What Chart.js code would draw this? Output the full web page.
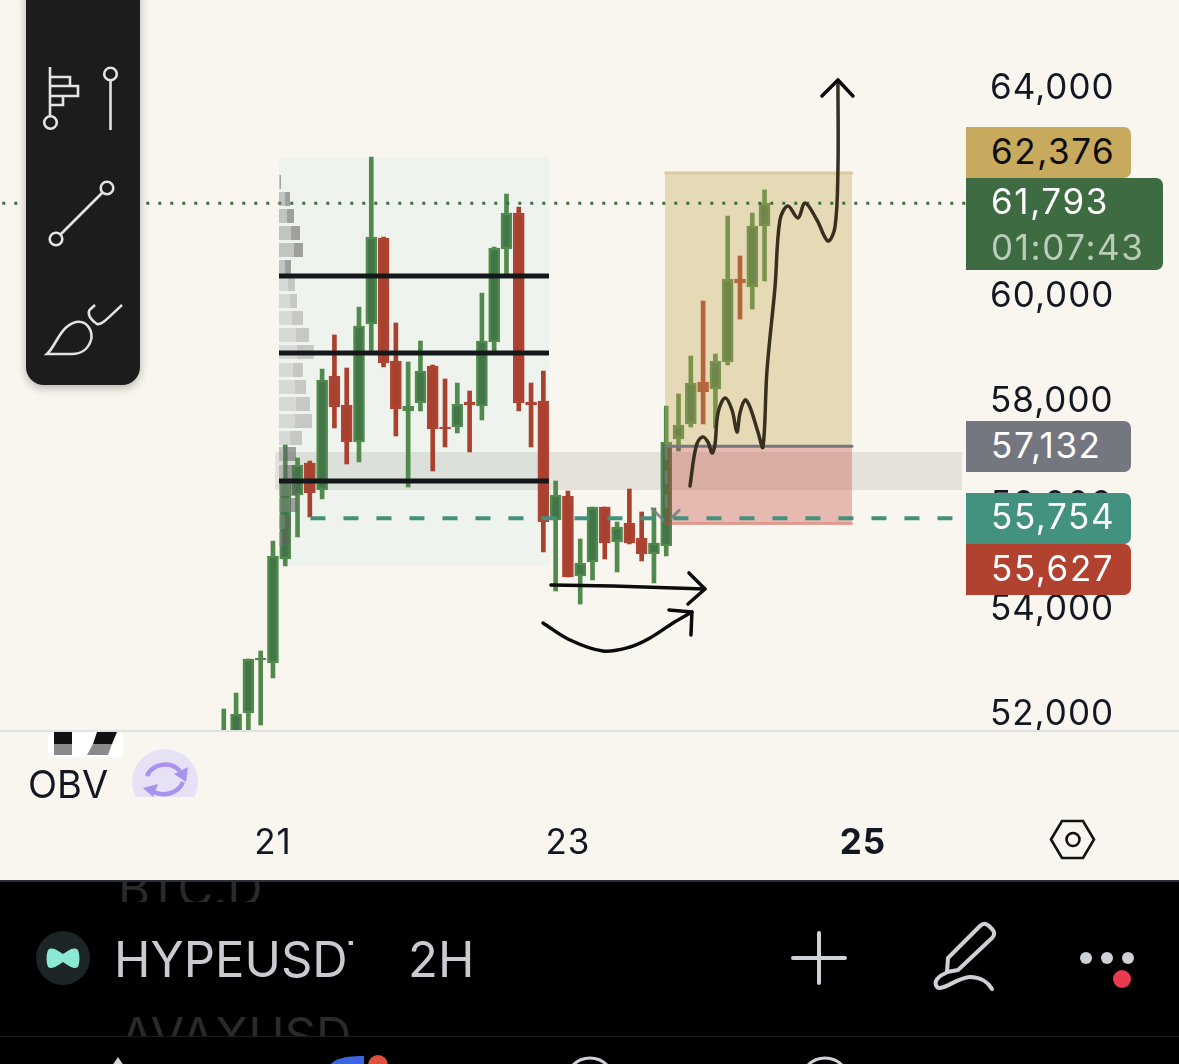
<!DOCTYPE html>
<html>
<head>
<meta charset="utf-8">
<title>HYPEUSDT 2H</title>
<script src="https://cdn.jsdelivr.net/npm/chart.js@4"></script>
<style>
    html, body { margin: 0; padding: 0; background: #f9f6ef; overflow: hidden; }
    body { width: 1179px; height: 1064px; position: relative; font-family: Inter, sans-serif; }
    canvas { position: absolute; left: 0; top: 0; }
    .abs { position: absolute; }
    .tag { position: absolute; left: 966px; width: 165px; box-sizing: border-box; padding-left: 25px;
           border-radius: 0 7px 7px 0; font-size: 35px; letter-spacing: 1.6px; color: #fff; }
    .fade { position: absolute; color: #2a2a2d; font-size: 49px; white-space: nowrap; overflow: hidden; }
    svg { position: absolute; overflow: visible; }
</style>
</head>
<body>
<canvas id="priceChart" width="1179" height="880"></canvas>

<div class="abs" style="left:0;top:730px;width:1179px;height:2px;background:#dfe2e3"></div>

<!-- drawing tools panel -->
<div class="abs" style="left:26px;top:-20px;width:114px;height:405px;background:#1c1c1c;border-radius:18px;box-shadow:0 3px 10px rgba(0,0,0,.28)"></div>
<svg width="1179" height="400" style="left:0;top:0" fill="none" stroke="#e3e3e3" stroke-width="2.6">
    <path d="M50 67V116M50 77H70V86H78V96H63V105H50M50 86H70M50 96H63"/>
    <circle cx="50.5" cy="122.5" r="6.3"/>
    <circle cx="110.5" cy="74" r="6.3"/>
    <path d="M110.5 80V130"/>
    <circle cx="107" cy="188" r="6.3"/>
    <circle cx="56" cy="239" r="6.3"/>
    <path d="M60.5 234.5L102.5 192.5"/>
    <path d="M47 354C56 346 60 326 76 322C88 320 93 332 91 340C88 350 80 354 72 354Z"/>
    <path d="M95 305L89.500 310C87 315 92 321 97 324C101 325 103 323 122 305"/>
</svg>

<!-- OBV pane label -->
<div class="abs" style="left:48px;top:732px;width:75px;height:25px;background:#fff"></div>
<div class="abs" style="left:54px;top:732px;width:18px;height:12px;background:#111"></div>
<div class="abs" style="left:54px;top:744px;width:18px;height:11px;background:#8a8a8a"></div>
<svg width="1179" height="800" style="left:0;top:0">
    <path d="M97 732H117L112 744H93Z" fill="#111"/>
    <path d="M93 744H112L108 755H87Z" fill="#8a8a8a"/>
</svg>
<div class="abs" style="left:28px;top:762px;font-size:38px;color:#131722;line-height:44px">OBV</div>
<div class="abs" style="left:120px;top:740px;width:90px;height:57px;overflow:hidden">
    <svg width="90" height="90" style="left:0;top:0" fill="none">
        <circle cx="45" cy="42" r="33" fill="#e7e1f5"/>
        <path d="M27 36C32 24 50 20 60 31" stroke="#a993ee" stroke-width="4.500"/>
        <path d="M63 42C58 54 42 58 31 50" stroke="#a993ee" stroke-width="4.500"/>
        <path d="M54 34L68 27L66 42Z" fill="#a993ee"/>
        <path d="M23 48L38 44L33 57Z" fill="#a993ee"/>
    </svg>
</div>

<!-- price tags on the right axis -->
<div class="tag" style="top:127px;height:51px;line-height:48px;background:#c8aa5f;color:#0c0c0c">62,376</div>
<div class="tag" style="top:178px;width:197px;height:92px;background:#3e6b42;line-height:46px">61,793<br><span style="color:#b9cdb9">01:07:43</span></div>
<div class="tag" style="top:421px;height:51px;line-height:48px;background:#747680">57,132</div>
<div class="tag" style="top:493px;height:51px;line-height:46px;background:#439280">55,754</div>
<div class="tag" style="top:544px;height:51px;line-height:48px;background:#b24230">55,627</div>

<svg width="1179" height="880" style="left:0;top:0" fill="none" stroke="#111" stroke-width="2.600">
    <path d="M1051 839.500L1062 821H1083L1094 839.500L1083 858H1062Z"/>
    <circle cx="1073" cy="839.500" r="6.500"/>
</svg>

<!-- bottom bar -->
<div class="abs" style="left:0;top:880px;width:1179px;height:184px;background:#000;border-top:2px solid #2a2e39;box-sizing:border-box"></div>
<div class="fade" style="left:118px;top:882px;height:20px"><div style="margin-top:-22px;line-height:58px">BTC.D</div></div>
<div class="fade" style="left:120px;top:1012px;width:232px;height:24px;line-height:48px">AVAXUSDT</div>
<div class="abs" style="left:0;top:1036px;width:1179px;height:1px;background:#1c1c1e"></div>
<div class="abs" style="left:114px;top:930px;width:239px;height:60px;overflow:hidden;font-size:49px;line-height:60px;color:#c8cbd0;white-space:nowrap">HYPEUSDT</div>
<div class="abs" style="left:408px;top:930px;font-size:49px;line-height:60px;color:#c8cbd0">2H</div>
<svg width="1179" height="1064" style="left:0;top:0" fill="none" stroke="#ced1d6" stroke-width="4" stroke-linecap="round" stroke-linejoin="round">
    <circle cx="63" cy="958" r="27" fill="#1c2426" stroke="none"/>
    <path d="M48 950C53 946 58 951 63 954C68 951 73 946 78 950C80 955 80 962 78 967C73 970 68 965 63 962C58 965 53 970 48 967C46 962 46 955 48 950Z" fill="#8be8d5" stroke="none"/>
    <path d="M819 933V983M793 958H845"/>
    <path d="M948 958L980 926C983 923 986 923 989 926L992 929C995 932 995 935 992 938L958 970L947 972Z"/>
    <path d="M946 973C938 976 933 982 937 987C942 992 958 977 970 977C980 977 988 982 992 989"/>
    <circle cx="1086" cy="958" r="6" fill="#ced1d6" stroke="none"/>
    <circle cx="1107" cy="958" r="6" fill="#ced1d6" stroke="none"/>
    <circle cx="1128" cy="958" r="6" fill="#ced1d6" stroke="none"/>
    <circle cx="1122" cy="979" r="9" fill="#ea3a50" stroke="none"/>
    <path d="M118 1057L128 1072H108Z" fill="#d5d5d5" stroke="none"/>
    <path d="M326 1072C330 1060 340 1056 364 1056V1072Z" fill="#3b66e0" stroke="none"/>
    <circle cx="378" cy="1065" r="10" fill="#e0503e" stroke="none"/>
    <circle cx="590" cy="1082" r="24" stroke-width="3"/>
    <circle cx="825" cy="1082" r="24" stroke-width="3"/>
</svg>

<script>
let candleIndex = [-4, -3, -2, -1, 0, 1, 2, 3, 4, 5, 6, 7, 8, 9, 10, 11, 12, 13, 14, 15, 16, 17, 18, 19, 20, 21, 22, 23, 24, 25, 26, 27, 28, 29, 30, 31, 32, 33, 34, 35, 36, 37, 38, 39, 40];
let candleOpen = [51407, 51598, 52020, 53036, 52978, 54972, 56199, 56812, 56294, 58480, 57924, 57215, 59476, 61125, 58767, 57809, 57962, 58671, 57502, 57502, 57981, 57905, 59131, 60914, 61604, 57981, 58000, 55719, 56179, 54646, 54914, 55969, 55298, 55662, 55374, 55068, 55221, 57272, 57560, 58365, 58230, 58748, 60339, 60186, 61355];
let candleHigh = [52097, 52403, 53055, 53208, 55317, 57157, 56908, 56850, 58614, 59266, 58633, 59802, 62677, 61144, 59496, 58748, 59150, 58690, 58422, 58345, 58192, 60071, 60952, 61968, 61719, 58345, 58575, 56467, 56275, 55355, 55969, 55969, 55681, 56314, 55873, 55949, 57905, 58135, 58863, 59917, 58901, 61546, 60780, 61604, 62045];
let candleLow = [51272, 51502, 51598, 51790, 52691, 54838, 55394, 55777, 56122, 57483, 56793, 56831, 58940, 58652, 57330, 56352, 57809, 56659, 57119, 57387, 57023, 57636, 58940, 60435, 57809, 57119, 55106, 54358, 54627, 54109, 54569, 54972, 54723, 55260, 54934, 54512, 55029, 57042, 57502, 57560, 57483, 58690, 59572, 59764, 60301];
let candleClose = [51598, 52001, 53055, 53074, 55029, 56486, 56774, 56237, 58403, 57885, 57215, 59438, 61144, 58729, 57847, 57905, 58575, 57464, 57464, 57943, 57924, 59150, 60933, 61604, 57962, 57924, 55681, 56199, 54627, 54895, 55969, 55279, 55585, 55279, 55068, 55279, 57215, 57540, 58345, 58173, 58767, 60339, 60262, 61355, 61793];

let priceTicks = [52000, 54000, 56000, 58000, 60000, 62000, 64000];
let timeTicks = [0, 24, 48];
let timeTickLabels = ['21', '23', '25'];

let lastPrice = 61793;
let targetPrice = 62376;
let entryPrice = 57132;
let stopPrice = 55627;
let pocPrice = 55754;

// fixed range volume profile, one row per price bin
let profileTop = [62332, 62007, 61681, 61355, 61029, 60703, 60377, 60051, 59726, 59400, 59074, 58729, 58403, 58077, 57751, 57425, 57119, 56774, 56448, 56141, 55815, 55489];
let profileUp = [0.08, 0.49, 0.65, 0.98, 1.22, 0.49, 0.73, 0.9, 1.06, 1.38, 1.46, 1.14, 1.3, 1.38, 1.3, 0.9, 0.41, 0.41, 0.9, 0.9, 0.49, 0.24];
let profileDown = [0.08, 0.41, 0.57, 0.73, 0.73, 0.49, 0.57, 0.57, 0.9, 1.06, 1.38, 0.81, 0.9, 1.14, 1.38, 0.98, 0.98, 0.81, 0.57, 0.57, 0.49, 0.65];
let profileRowSize = 268;
let valueAreaRows = [6, 15];

let rangeLevels = [60396, 58920, 56467];

// hand drawn strokes, as [bar, price]
let scribbleUp = [[33.93, 56371], [34.42, 57119], [34.91, 57310], [35.39, 57215], [35.72, 57004], [35.96, 57157], [36.21, 57770], [36.78, 58058], [37.35, 57828], [37.75, 57406], [38.0, 57770], [38.41, 58020], [38.81, 57885], [39.46, 57406], [39.87, 57119], [40.2, 58595], [40.85, 60186], [41.25, 61470], [41.9, 61738], [42.72, 61508], [43.29, 61796], [44.26, 61470], [45.16, 61067], [45.73, 61336], [45.97, 62428], [45.97, 64153]];
let scribbleUpHead = [[44.67, 63847], [45.97, 64153], [47.19, 63847]];
let flatArrow = [[22.62, 54473], [27.66, 54454], [35.15, 54397]];
let flatArrowHead = [[33.85, 54704], [35.15, 54397], [33.77, 54109]];
let bowlArrow = [[21.97, 53745], [24.17, 53419], [26.85, 53208], [29.05, 53285], [30.68, 53458], [32.55, 53745], [34.09, 53956]];
let bowlArrowHead = [[32.22, 53994], [34.09, 53956], [34.01, 53515]];
let checkLeft = [[30.85, 55935], [31.75, 55720]];
let checkRight = [[33.05, 55905], [32.4, 55750]];

let greenBorder = '#508a4c';
let greenBody = '#427548';
let redBody = '#a9412f';

function toPoints(pairs) {
    return pairs.map(function (p) {
        return { x: p[0], y: p[1] };
    });
}

// a filled block between two bars and two prices
function block(fromBar, toBar, top, bottom, color, order) {
    return {
        type: 'line',
        data: [{ x: fromBar, y: top }, { x: toBar, y: top }],
        fill: { value: bottom },
        backgroundColor: color,
        borderColor: 'transparent',
        borderWidth: 0,
        pointRadius: 0,
        order: order,
    };
}

function stroke(points, color, width, order, tension, dash) {
    return {
        type: 'line',
        data: points,
        borderColor: color,
        borderWidth: width,
        borderDash: dash || [],
        borderCapStyle: dash ? 'butt' : 'round',
        borderJoinStyle: 'round',
        tension: tension || 0,
        pointRadius: 0,
        fill: false,
        order: order,
    };
}

let isUp = candleClose.map(function (c, i) {
    return c >= candleOpen[i];
});

let datasets = [
    block(0.49, 22.46, 62677, 54838, '#eff3ee', 100),
    block(0.16, 56.07, 57023, 56294, 'rgba(125,130,120,0.17)', 90),
    {
        type: 'bar',
        grouped: false,
        barThickness: 4,
        data: candleIndex.map(function (x, i) {
            return { x: x, y: [candleLow[i], candleHigh[i]] };
        }),
        backgroundColor: isUp.map(function (up) { return up ? greenBorder : redBody; }),
        order: 80,
    },
    {
        type: 'bar',
        grouped: false,
        barThickness: 11,
        data: candleIndex.map(function (x, i) {
            return { x: x, y: [candleOpen[i], candleClose[i]] };
        }),
        backgroundColor: isUp.map(function (up) { return up ? greenBody : redBody; }),
        borderColor: isUp.map(function (up) { return up ? greenBorder : '#ae4435'; }),
        borderWidth: 2.5,
        borderSkipped: false,
        order: 79,
    },
    block(31.9, 47.11, targetPrice, entryPrice, 'rgba(198,165,80,0.36)', 60),
    block(31.9, 47.11, entryPrice, stopPrice, 'rgba(190,65,50,0.33)', 60),
    stroke([{ x: 31.9, y: targetPrice }, { x: 47.11, y: targetPrice }], 'rgba(200,170,95,0.45)', 3, 59),
    stroke([{ x: 31.9, y: stopPrice + 25 }, { x: 47.11, y: stopPrice + 25 }], 'rgba(205,80,65,0.3)', 3, 59),
    stroke([{ x: 32, y: entryPrice }, { x: 47.11, y: entryPrice }], '#76777f', 3, 58),
    stroke([{ x: 3.05, y: pocPrice }, { x: 55.6, y: pocPrice }], '#43907e', 4, 57, 0, [15, 18]),
    stroke([{ x: -23, y: lastPrice }, { x: 57, y: lastPrice }], '#3e6b42', 3, 55, 0, [3, 9]),
    stroke([{ x: 32, y: entryPrice }, { x: 32, y: pocPrice }], 'rgba(120,125,135,0.75)', 3, 56, 0, [14, 10]),
    stroke(toPoints(checkLeft), 'rgba(120,125,135,0.85)', 3, 56),
    stroke(toPoints(checkRight), 'rgba(120,125,135,0.85)', 3, 56),
];

profileTop.forEach(function (top, i) {
    let inValueArea = i >= valueAreaRows[0] && i <= valueAreaRows[1];
    let start = 0.49;
    let mid = start + profileUp[i];
    let end = mid + profileDown[i];
    let bottom = top - profileRowSize;
    datasets.push(block(start, mid, top, bottom, inValueArea ? 'rgba(160,160,158,0.3)' : 'rgba(140,140,136,0.45)', 50));
    datasets.push(block(mid, end, top, bottom, inValueArea ? 'rgba(140,140,138,0.42)' : 'rgba(100,100,98,0.58)', 50));
});

rangeLevels.forEach(function (price) {
    datasets.push(stroke([{ x: 0.49, y: price }, { x: 22.46, y: price }], '#15181a', 5, 40));
    datasets[datasets.length - 1].borderCapStyle = 'butt';
});

datasets.push(stroke(toPoints(scribbleUp), '#37301f', 3.5, 30, 0.35));
datasets.push(stroke(toPoints(scribbleUpHead), '#0b0b0b', 3.5, 29));
datasets.push(stroke(toPoints(flatArrow), '#0b0b0b', 3.5, 29, 0.2));
datasets.push(stroke(toPoints(flatArrowHead), '#0b0b0b', 3.5, 29));
datasets.push(stroke(toPoints(bowlArrow), '#0b0b0b', 3.5, 29, 0.35));
datasets.push(stroke(toPoints(bowlArrowHead), '#0b0b0b', 3.5, 29));

// wider digit spacing on the axis labels
let axisLetterSpacing = {
    id: 'axisLetterSpacing',
    beforeDraw: function (chart) {
        chart.ctx.letterSpacing = '1px';
    },
};

let priceChartCanvas = document.getElementById('priceChart');
let priceChart = new Chart(priceChartCanvas, {
    type: 'bar',
    data: { datasets: datasets },
    plugins: [axisLetterSpacing],
    options: {
        responsive: false,
        animation: false,
        layout: { padding: 0 },
        plugins: {
            legend: { display: false },
            tooltip: { enabled: false },
            title: { display: false },
            filler: { propagate: false },
        },
        scales: {
            x: {
                type: 'linear',
                offset: false,
                min: -22.21,
                max: 56.39,
                grid: { display: false },
                border: { display: false },
                afterBuildTicks: function (axis) {
                    axis.ticks = timeTicks.map(function (v) { return { value: v }; });
                },
                afterFit: function (axis) {
                    axis.height = 150;
                    axis.paddingLeft = 0;
                    axis.paddingRight = 0;
                },
                ticks: {
                    padding: 84,
                    maxRotation: 0,
                    autoSkip: false,
                    color: '#131722',
                    font: function (ctx) {
                        return {
                            family: 'Inter',
                            size: 35,
                            weight: ctx.index === 2 ? '700' : '400',
                        };
                    },
                    callback: function (value) {
                        return timeTickLabels[timeTicks.indexOf(value)];
                    },
                },
            },
            y: {
                position: 'right',
                min: 51694,
                max: 65687,
                grid: { display: false },
                border: { display: false },
                afterBuildTicks: function (axis) {
                    axis.ticks = priceTicks.map(function (v) { return { value: v }; });
                },
                afterFit: function (axis) {
                    axis.width = 213;
                    axis.paddingTop = 0;
                    axis.paddingBottom = 0;
                },
                ticks: {
                    padding: 16,
                    autoSkip: false,
                    color: '#131722',
                    font: { family: 'Inter', size: 35 },
                    callback: function (value) {
                        return value.toLocaleString('en-US');
                    },
                },
            },
        },
    },
});
</script>
</body>
</html>
